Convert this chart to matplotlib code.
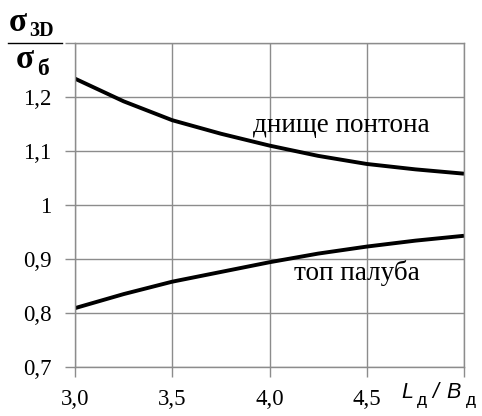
import numpy as np
import matplotlib
matplotlib.use("Agg")
import matplotlib.pyplot as plt
from matplotlib.lines import Line2D

# ratio L/B
ratio = [3.0, 3.25, 3.5, 3.75, 4.0, 4.25, 4.5, 4.75, 5.0]
# stress ratio sigma_3D / sigma_b
bottom_pontoon = [1.234, 1.192, 1.157, 1.132, 1.110, 1.091, 1.076, 1.066, 1.058]
top_deck = [0.809, 0.835, 0.858, 0.876, 0.894, 0.910, 0.923, 0.934, 0.943]

x_ticks = [3.0, 3.5, 4.0, 4.5, 5.0]
x_tick_labels = ["3,0", "3,5", "4,0", "4,5", ""]
y_ticks = [0.7, 0.8, 0.9, 1.0, 1.1, 1.2, 1.3]
y_tick_labels = ["0,7", "0,8", "0,9", "1", "1,1", "1,2", ""]

serif = "Liberation Serif"
grid_col = "#8c8c8c"

fig = plt.figure(figsize=(4.82, 4.16), dpi=100)
ax = fig.add_axes([75 / 482, 1 - 367 / 416, (464 - 75) / 482, (367 - 43) / 416])

ax.plot(ratio, bottom_pontoon, color="black", lw=2.8, solid_capstyle="butt",
        solid_joinstyle="round")
ax.plot(ratio, top_deck, color="black", lw=2.8, solid_capstyle="butt",
        solid_joinstyle="round")

ax.set_xlim(3.0, 5.0)
ax.set_ylim(0.7, 1.3)
ax.set_xticks(x_ticks)
ax.set_xticklabels(x_tick_labels, fontfamily=serif, fontsize=16.5)
ax.set_yticks(y_ticks)
ax.set_yticklabels(y_tick_labels, fontfamily=serif, fontsize=16.5)
ax.tick_params(direction="out", length=7, width=1, color=grid_col)
ax.tick_params(axis="x", pad=9)
ax.tick_params(axis="y", pad=10)
ax.grid(True, color=grid_col, lw=1)
for s in ax.spines.values():
    s.set_color(grid_col)
    s.set_linewidth(1)

ax.text(4.37, 1.148, "днище понтона", fontfamily=serif, fontsize=19.5,
        ha="center", va="center")
ax.text(4.45, 0.874, "топ палуба", fontfamily=serif, fontsize=19.5,
        ha="center", va="center")

# y label as a fraction
fig.text(9 / 482, 1 - 31 / 416, "σ", fontfamily=serif, fontsize=24,
         fontweight="bold", ha="left", va="baseline")
fig.text(29 / 482, 1 - 36 / 416, "3D", fontfamily=serif, fontsize=14.5,
         fontweight="bold", ha="left", va="baseline")
fig.add_artist(Line2D([8 / 482, 62 / 482], [1 - 43 / 416, 1 - 43 / 416],
                      color="black", lw=1))
fig.text(16 / 482, 1 - 68 / 416, "σ", fontfamily=serif, fontsize=24,
         fontweight="bold", ha="left", va="baseline")
fig.text(37 / 482, 1 - 75 / 416, "б", fontfamily=serif, fontsize=17,
         fontweight="bold", ha="left", va="baseline")

# x label
sans = "Liberation Sans"
fig.text(401 / 482, 1 - 398 / 416, "L", fontfamily=sans, fontsize=15.5,
         style="italic", ha="left", va="baseline")
fig.text(417 / 482, 1 - 405 / 416, "д", fontfamily=sans, fontsize=12.5,
         ha="left", va="baseline")
fig.text(432 / 482, 1 - 398 / 416, "/", fontfamily=sans, fontsize=15.5,
         style="italic", ha="left", va="baseline")
fig.text(446 / 482, 1 - 398 / 416, "B", fontfamily=sans, fontsize=15.5,
         style="italic", ha="left", va="baseline")
fig.text(466 / 482, 1 - 405 / 416, "д", fontfamily=sans, fontsize=12.5,
         ha="left", va="baseline")

fig.savefig("out.png", dpi=100)
